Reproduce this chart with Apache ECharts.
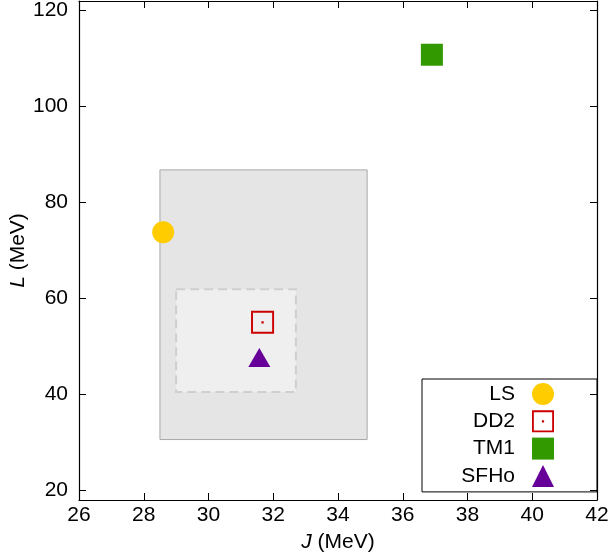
<!DOCTYPE html>
<html><head><meta charset="utf-8">
<script src="https://cdn.jsdelivr.net/npm/echarts@6/dist/echarts.min.js"></script>
<style>html,body{margin:0;padding:0;background:#fff}#c{width:609px;height:559px}</style>
</head><body><div id="c"></div>
<script>
// Data
const models = ['LS', 'DD2', 'TM1', 'SFHo'];
const J = [28.6, 31.67, 36.9, 31.57];
const L = [73.8, 55.04, 110.8, 47.1];
const outerBox = [28.5, 34.9, 30.6, 86.8]; // J min, J max, L min, L max
const innerBox = [29.0, 32.7, 40.5, 61.9];
const xTicks = [26, 28, 30, 32, 34, 36, 38, 40, 42];
const yTicks = [20, 40, 60, 80, 100, 120];

const colors = ['#ffcc00', '#cc0000', '#339900', '#660099'];
const FONT = 'Liberation Sans';
const FS = 21;
const dd2Path = 'path://M0,0 H24 V24 H0 Z M2,2 V22 H22 V2 Z M10.8,10.8 H13.2 V13.2 H10.8 Z';
const symbols = ['circle', dd2Path, 'rect', 'triangle'];
const sizes = [22, 23, 22, [22, 19]];
const offsets = [[0,0],[0,0],[0,0],[0,-3]];

const chart = echarts.init(document.getElementById('c'), null, {renderer: 'canvas'});

const baseX = {
  type: 'value', min: 26, max: 42, interval: 2,
  axisLine: {show: true, lineStyle: {color: '#000', width: 1.2}},
  axisTick: {show: true, inside: true, length: 7, customValues: xTicks, lineStyle: {color: '#000'}},
  splitLine: {show: false}
};
const baseY = {
  type: 'value', min: 18, max: 122,
  axisLine: {show: true, lineStyle: {color: '#000', width: 1.2}},
  axisTick: {show: true, inside: true, length: 7, customValues: yTicks, lineStyle: {color: '#000'}},
  splitLine: {show: false}
};

const series = [{
  type: 'scatter', data: [], z: 1, silent: true,
  markArea: {
    silent: true,
    data: [
      [{coord: [outerBox[0], outerBox[3]], itemStyle: {color: '#e5e5e5', borderColor: '#a8a8a8', borderWidth: 1}},
       {coord: [outerBox[1], outerBox[2]]}],
      [{coord: [innerBox[0], innerBox[3]], itemStyle: {color: '#efefef', borderColor: '#cfcfcf', borderWidth: 2, borderType: [9, 5]}},
       {coord: [innerBox[1], innerBox[2]]}]
    ]
  }
}];
models.forEach((m, i) => {
  series.push({
    name: m, type: 'scatter', z: 5,
    symbol: symbols[i], symbolSize: sizes[i], symbolOffset: offsets[i],
    itemStyle: {color: colors[i], opacity: 1},
    data: [[J[i], L[i]]]
  });
});

chart.setOption({
  animation: false,
  textStyle: {fontFamily: FONT},
  grid: {left: 79, right: 12, top: 1, bottom: 59, containLabel: false, outerBoundsMode: 'none'},
  xAxis: [
    Object.assign({}, baseX, {
      position: 'bottom',
      axisLabel: {show: true, margin: 5, fontSize: FS, color: '#000', fontFamily: FONT, customValues: xTicks},
      name: '{i|J} (MeV)', nameLocation: 'middle', nameGap: 32, nameMoveOverlap: false,
      nameTextStyle: {fontSize: FS, color: '#000', fontFamily: FONT,
        rich: {i: {fontStyle: 'italic', fontSize: FS, fontFamily: FONT, color: '#000'}}}
    }),
    Object.assign({}, baseX, {position: 'top', axisLabel: {show: false}})
  ],
  yAxis: [
    Object.assign({}, baseY, {
      position: 'left',
      axisLabel: {show: true, margin: 11, fontSize: FS, color: '#000', fontFamily: FONT, customValues: yTicks},
      name: '{i|L} (MeV)', nameLocation: 'middle', nameGap: 50, nameMoveOverlap: false,
      nameTextStyle: {fontSize: FS, color: '#000', fontFamily: FONT,
        rich: {i: {fontStyle: 'italic', fontSize: FS, fontFamily: FONT, color: '#000'}}}
    }),
    Object.assign({}, baseY, {position: 'right', axisLabel: {show: false}})
  ],
  legend: {
    orient: 'vertical', align: 'right',
    right: 12, top: 379,
    padding: [4, 43, 5, 39],
    itemWidth: 22, itemHeight: 22, itemGap: 5.3,
    borderColor: '#000', borderWidth: 1,
    backgroundColor: 'transparent',
    selectedMode: false,
    data: models,
    textStyle: {fontSize: FS, lineHeight: 22, color: '#000', fontFamily: FONT, width: 54, align: 'right', padding: [0, 12, 0, 0]}
  },
  series: series
});
</script></body></html>
